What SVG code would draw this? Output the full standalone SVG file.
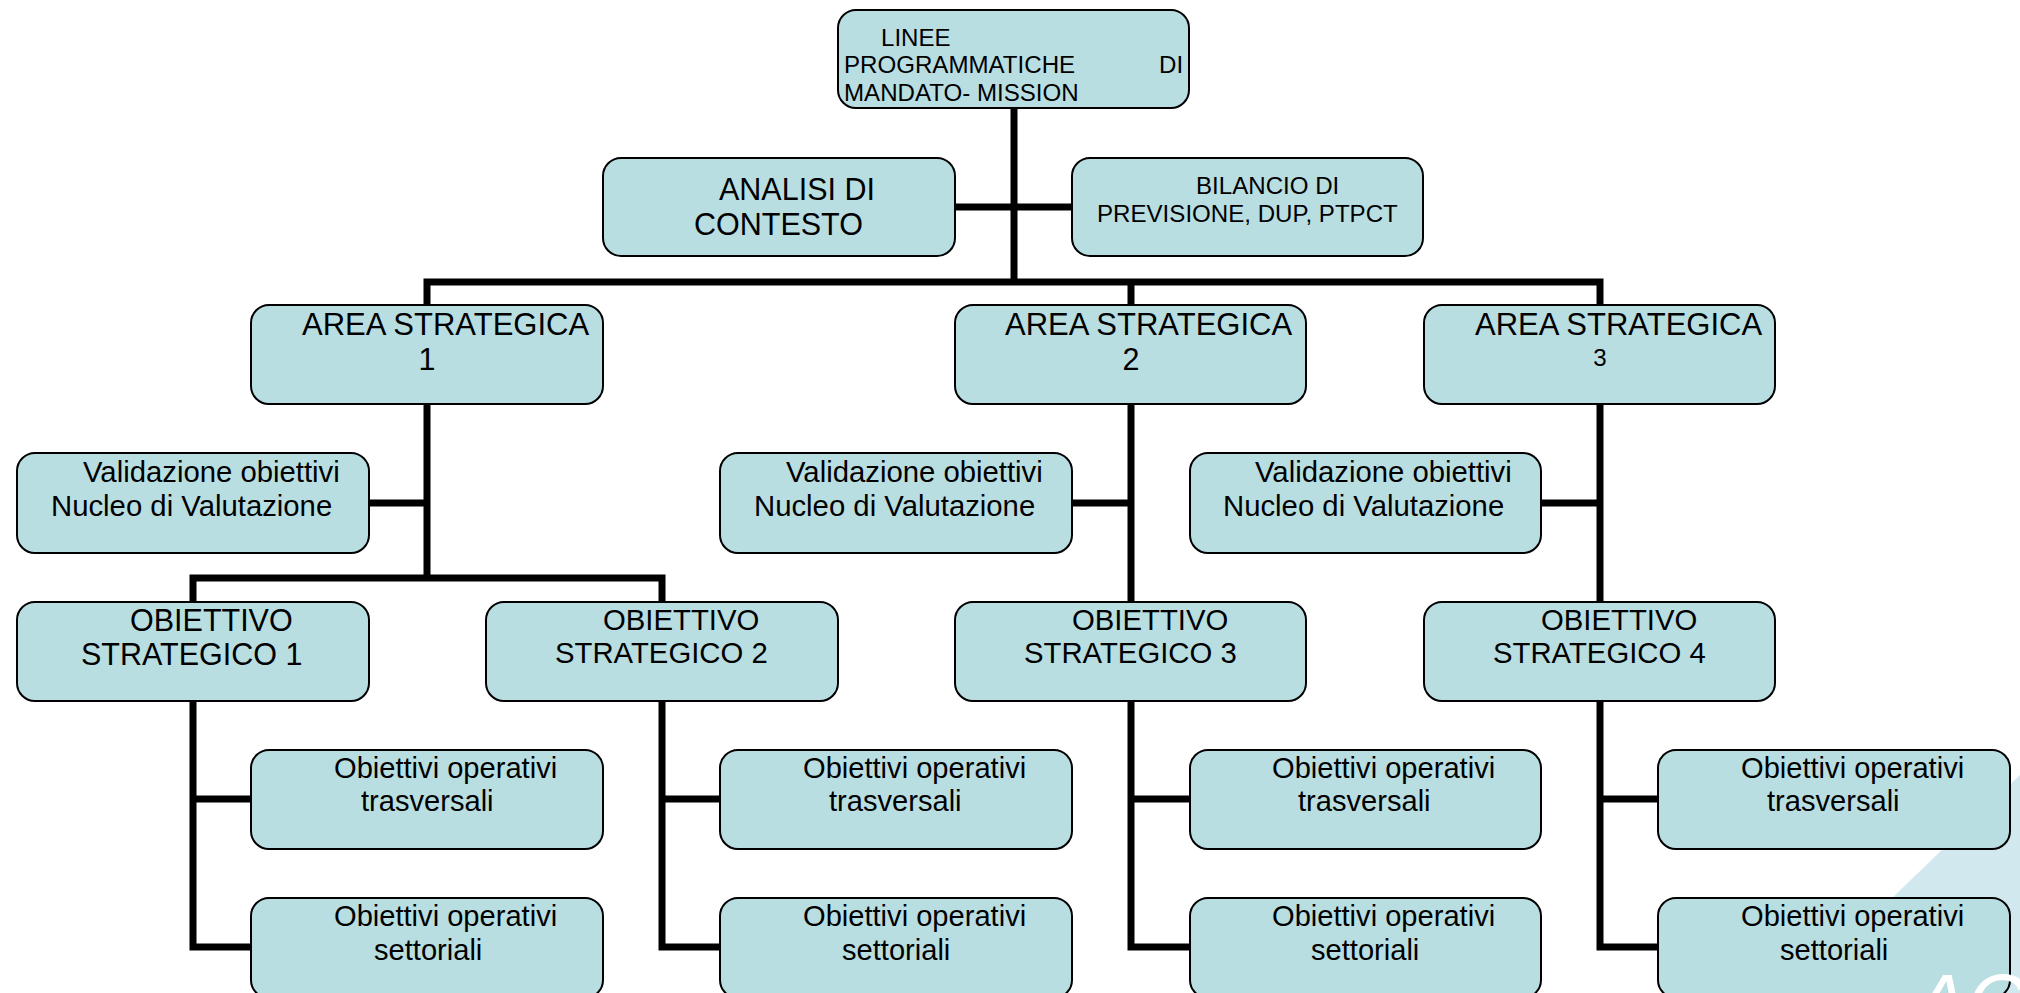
<svg xmlns="http://www.w3.org/2000/svg" width="2020" height="993" viewBox="0 0 2020 993">
<style>
.b{fill:#b9dee2;stroke:#000;stroke-width:2}
.c{fill:none;stroke:#000;stroke-width:7}
text{font-family:"Liberation Sans",Arial,sans-serif;fill:#000}
.s24{font-size:24.1px}
.s29{font-size:29.1px}
.s29b{font-size:29.3px}
.s30{font-size:30.5px}
.s31{font-size:31px}
</style>
<rect width="2020" height="993" fill="#fff"/>
<polygon points="1893,897 2020,775 2020,993 1790,993" fill="#d2e8ef"/>
<g id="connectors" class="c">
<path d="M1014 108V282M955 207H1072M427 305V282H1600V305M1131 282V305"/>
<path d="M427 404V578M369 503H427M193 602V578H662V602"/>
<path d="M193 701V947H251M193 799H251"/>
<path d="M662 701V947H720M662 799H720"/>
<path d="M1131 404V602M1072 503H1131"/>
<path d="M1131 701V947H1190M1131 799H1190"/>
<path d="M1600 404V602M1541 503H1600"/>
<path d="M1600 701V947H1658M1600 799H1658"/>
</g>
<g id="n-linee"><rect class="b" x="838" y="10" width="351" height="98" rx="18"/><text class="s24" x="881" y="46">LINEE</text><text class="s24" x="844" y="73">PROGRAMMATICHE</text><text class="s24" x="1159" y="73">DI</text><text class="s24" x="844" y="101">MANDATO- MISSION</text></g>
<g id="n-analisi"><rect class="b" x="603" y="158" width="352" height="98" rx="18"/><text class="s30" x="719" y="200">ANALISI DI</text><text class="s30" x="694" y="235">CONTESTO</text></g>
<g id="n-bilancio"><rect class="b" x="1072" y="158" width="351" height="98" rx="18"/><text class="s24" x="1196" y="194">BILANCIO DI</text><text class="s24" x="1097" y="222">PREVISIONE, DUP, PTPCT</text></g>
<g id="n-area1"><rect class="b" x="251" y="305" width="352" height="99" rx="18"/><text class="s31" x="302" y="335">AREA STRATEGICA</text><text class="s30" x="427" y="370" text-anchor="middle">1</text></g>
<g id="n-area2"><rect class="b" x="955" y="305" width="351" height="99" rx="18"/><text class="s31" x="1005" y="335">AREA STRATEGICA</text><text class="s30" x="1131" y="370" text-anchor="middle">2</text></g>
<g id="n-area3"><rect class="b" x="1424" y="305" width="351" height="99" rx="18"/><text class="s31" x="1475" y="335">AREA STRATEGICA</text><text class="s24" x="1600" y="366" text-anchor="middle">3</text></g>
<g id="n-val1"><rect class="b" x="17" y="453" width="352" height="100" rx="18"/><text class="s29b" x="83" y="482">Validazione obiettivi</text><text class="s29b" x="51" y="516">Nucleo di Valutazione</text></g>
<g id="n-val2"><rect class="b" x="720" y="453" width="352" height="100" rx="18"/><text class="s29b" x="786" y="482">Validazione obiettivi</text><text class="s29b" x="754" y="516">Nucleo di Valutazione</text></g>
<g id="n-val3"><rect class="b" x="1190" y="453" width="351" height="100" rx="18"/><text class="s29b" x="1255" y="482">Validazione obiettivi</text><text class="s29b" x="1223" y="516">Nucleo di Valutazione</text></g>
<g id="n-obj1"><rect class="b" x="17" y="602" width="352" height="99" rx="18"/><text class="s30" x="130" y="631">OBIETTIVO</text><text class="s30" x="81" y="665">STRATEGICO 1</text></g>
<g id="n-obj2"><rect class="b" x="486" y="602" width="352" height="99" rx="18"/><text class="s29b" x="603" y="630">OBIETTIVO</text><text class="s29b" x="555" y="663">STRATEGICO 2</text></g>
<g id="n-obj3"><rect class="b" x="955" y="602" width="351" height="99" rx="18"/><text class="s29b" x="1072" y="630">OBIETTIVO</text><text class="s29b" x="1024" y="663">STRATEGICO 3</text></g>
<g id="n-obj4"><rect class="b" x="1424" y="602" width="351" height="99" rx="18"/><text class="s29b" x="1541" y="630">OBIETTIVO</text><text class="s29b" x="1493" y="663">STRATEGICO 4</text></g>
<g id="n-op1t"><rect class="b" x="251" y="750" width="352" height="99" rx="18"/><text class="s29" x="334" y="778">Obiettivi operativi</text><text class="s29" x="361" y="811">trasversali</text></g>
<g id="n-op1s"><rect class="b" x="251" y="898" width="352" height="100" rx="18"/><text class="s29" x="334" y="926">Obiettivi operativi</text><text class="s29" x="374" y="960">settoriali</text></g>
<g id="n-op2t"><rect class="b" x="720" y="750" width="352" height="99" rx="18"/><text class="s29" x="803" y="778">Obiettivi operativi</text><text class="s29" x="829" y="811">trasversali</text></g>
<g id="n-op2s"><rect class="b" x="720" y="898" width="352" height="100" rx="18"/><text class="s29" x="803" y="926">Obiettivi operativi</text><text class="s29" x="842" y="960">settoriali</text></g>
<g id="n-op3t"><rect class="b" x="1190" y="750" width="351" height="99" rx="18"/><text class="s29" x="1272" y="778">Obiettivi operativi</text><text class="s29" x="1298" y="811">trasversali</text></g>
<g id="n-op3s"><rect class="b" x="1190" y="898" width="351" height="100" rx="18"/><text class="s29" x="1272" y="926">Obiettivi operativi</text><text class="s29" x="1311" y="960">settoriali</text></g>
<g id="n-op4t"><rect class="b" x="1658" y="750" width="352" height="99" rx="18"/><text class="s29" x="1741" y="778">Obiettivi operativi</text><text class="s29" x="1767" y="811">trasversali</text></g>
<g id="n-op4s"><rect class="b" x="1658" y="898" width="352" height="100" rx="18"/><text class="s29" x="1741" y="926">Obiettivi operativi</text><text class="s29" x="1780" y="960">settoriali</text></g>
<text x="1914" y="1030" font-size="80" font-style="italic" style="fill:#fff">AC</text>
</svg>
